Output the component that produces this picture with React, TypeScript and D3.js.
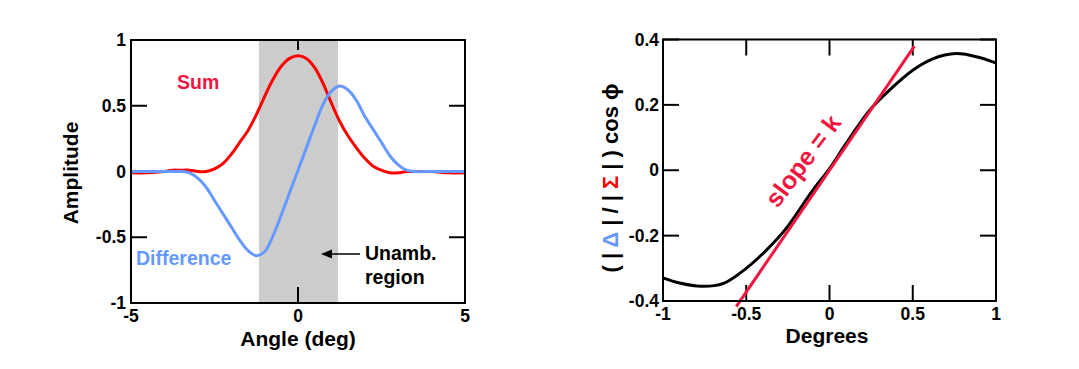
import * as d3 from "d3";

// left panel: sum / difference patterns
const angle = [-5, -4.5, -4, -3.75, -3.5, -3.25, -3, -2.75, -2.5, -2.25, -2, -1.75, -1.5, -1.25, -1, -0.75, -0.5, -0.25, 0, 0.25, 0.5, 0.75, 1, 1.25, 1.5, 1.75, 2, 2.25, 2.5, 2.75, 3, 3.25, 3.5, 4, 4.5, 5];
const sumVals = [-0.01, -0.01, 0, 0.01, 0.01, 0.01, 0, 0, 0.02, 0.06, 0.13, 0.22, 0.31, 0.43, 0.57, 0.7, 0.8, 0.86, 0.88, 0.86, 0.79, 0.67, 0.52, 0.38, 0.27, 0.18, 0.1, 0.04, 0.01, -0.01, -0.01, 0, 0, 0, -0.01, -0.01];
const diffVals = [0, 0, 0, 0, 0, -0.01, -0.05, -0.12, -0.22, -0.32, -0.42, -0.52, -0.6, -0.64, -0.61, -0.49, -0.33, -0.16, 0.01, 0.18, 0.35, 0.51, 0.61, 0.65, 0.62, 0.54, 0.42, 0.32, 0.22, 0.12, 0.05, 0.01, 0, 0, 0, 0];
const unambRegion = [-1.17, 1.2];
const leftXTicks = [-5, 0, 5];
const leftYTicks = [-1, -0.5, 0, 0.5, 1];

// right panel: normalized difference
const degrees = [-1, -0.9, -0.77, -0.64, -0.5, -0.38, -0.26, -0.1, 0, 0.1, 0.24, 0.36, 0.5, 0.62, 0.76, 0.9, 1];
const ratioVals = [-0.329, -0.345, -0.355, -0.347, -0.3, -0.245, -0.178, -0.061, 0.005, 0.082, 0.183, 0.245, 0.306, 0.341, 0.357, 0.345, 0.328];
const slopeX = [-0.56, 0.51];
const slopeY = [-0.417, 0.38];
const rightXTicks = [-1, -0.5, 0, 0.5, 1];
const rightYTicks = [-0.4, -0.2, 0, 0.2, 0.4];

const FONT = "'Liberation Sans', Arial, Helvetica, sans-serif";
const RED = "#ff0000";
const PINK = "#f0163f";
const BLUE = "#6699ff";

export default function App() {
  const xL = d3.scaleLinear().domain([-5, 5]).range([131, 465]);
  const yL = d3.scaleLinear().domain([-1, 1]).range([303, 40]);
  const xR = d3.scaleLinear().domain([-1, 1]).range([663, 996]);
  const yR = d3.scaleLinear().domain([-0.4, 0.4]).range([301, 39.5]);

  const lineL = d3.line<number>().x((_, i) => xL(angle[i])).curve(d3.curveCatmullRom);
  const sumPath = lineL.y((d) => yL(d))(sumVals) || "";
  const diffPath = lineL.y((d) => yL(d))(diffVals) || "";
  const ratioPath = d3.line<number>()
    .x((_, i) => xR(degrees[i]))
    .y((d) => yR(d))
    .curve(d3.curveCatmullRom)(ratioVals) || "";

  const fmt = (v: number) => String(v);
  const tickFont = { fontFamily: FONT, fontWeight: 700, fontSize: 17.5 };

  return (
    <svg width={1079} height={369} style={{ position: "absolute", left: 0, top: 0, background: "#fff" }}>
      {/* ---- left panel ---- */}
      <rect x={xL(unambRegion[0])} y={yL(1)} width={xL(unambRegion[1]) - xL(unambRegion[0])} height={yL(-1) - yL(1)} fill="#cccccc" />
      {leftXTicks.map((t) => (
        <g key={"lx" + t}>
          <line x1={xL(t)} x2={xL(t)} y1={yL(1)} y2={yL(1) + 10} stroke="#000" strokeWidth={2} />
          <line x1={xL(t)} x2={xL(t)} y1={yL(-1)} y2={yL(-1) - 16} stroke="#000" strokeWidth={2} />
          <text x={xL(t)} y={322} textAnchor="middle" {...tickFont}>{fmt(t)}</text>
        </g>
      ))}
      {leftYTicks.map((t) => (
        <g key={"ly" + t}>
          <line x1={xL(-5)} x2={xL(-5) + 16} y1={yL(t)} y2={yL(t)} stroke="#000" strokeWidth={2} />
          <line x1={xL(5)} x2={xL(5) - 16} y1={yL(t)} y2={yL(t)} stroke="#000" strokeWidth={2} />
          <text x={126} y={yL(t) + 6} textAnchor="end" {...tickFont}>{fmt(t)}</text>
        </g>
      ))}
      <path d={sumPath} fill="none" stroke={RED} strokeWidth={3} />
      <path d={diffPath} fill="none" stroke={BLUE} strokeWidth={3} />
      <rect x={xL(-5)} y={yL(1)} width={xL(5) - xL(-5)} height={yL(-1) - yL(1)} fill="none" stroke="#000" strokeWidth={2} />

      <text x={177} y={88.5} fill={PINK} fontFamily={FONT} fontWeight={700} fontSize={19.5}>Sum</text>
      <text x={136} y={264.5} fill={BLUE} fontFamily={FONT} fontWeight={700} fontSize={19.5}>Difference</text>
      <text x={365} y={260} fontFamily={FONT} fontWeight={700} fontSize={19.5}>Unamb.</text>
      <text x={365} y={283.5} fontFamily={FONT} fontWeight={700} fontSize={19.5}>region</text>
      <line x1={360} x2={330} y1={254} y2={254} stroke="#000" strokeWidth={1.5} />
      <path d="M321,254 L332,249.5 L332,258.5 Z" fill="#000" />

      <text x={298} y={346} textAnchor="middle" fontFamily={FONT} fontWeight={700} fontSize={21}>Angle (deg)</text>
      <text transform="translate(78,173) rotate(-90)" textAnchor="middle" fontFamily={FONT} fontWeight={700} fontSize={21}>Amplitude</text>

      {/* ---- right panel ---- */}
      {rightXTicks.map((t) => (
        <g key={"rx" + t}>
          <line x1={xR(t)} x2={xR(t)} y1={yR(0.4)} y2={yR(0.4) + 16} stroke="#000" strokeWidth={2} />
          <line x1={xR(t)} x2={xR(t)} y1={yR(-0.4)} y2={yR(-0.4) - 16} stroke="#000" strokeWidth={2} />
          <text x={xR(t)} y={320} textAnchor="middle" {...tickFont}>{fmt(t)}</text>
        </g>
      ))}
      {rightYTicks.map((t) => (
        <g key={"ry" + t}>
          <line x1={xR(-1)} x2={xR(-1) + 16} y1={yR(t)} y2={yR(t)} stroke="#000" strokeWidth={2} />
          <line x1={xR(1)} x2={xR(1) - 16} y1={yR(t)} y2={yR(t)} stroke="#000" strokeWidth={2} />
          <text x={659} y={yR(t) + 6} textAnchor="end" {...tickFont}>{fmt(t)}</text>
        </g>
      ))}
      <path d={ratioPath} fill="none" stroke="#000" strokeWidth={3} />
      <line x1={xR(slopeX[0])} y1={yR(slopeY[0])} x2={xR(slopeX[1])} y2={yR(slopeY[1])} stroke={PINK} strokeWidth={3} />
      <rect x={xR(-1)} y={yR(0.4)} width={xR(1) - xR(-1)} height={yR(-0.4) - yR(0.4)} fill="none" stroke="#000" strokeWidth={2} />

      <text transform="translate(810,166) rotate(-53)" textAnchor="middle" fill={PINK} fontFamily={FONT} fontWeight={700} fontSize={25}>slope = k</text>

      <text x={827} y={343} textAnchor="middle" fontFamily={FONT} fontWeight={700} fontSize={21}>Degrees</text>
      <text transform="translate(618,178) rotate(-90)" textAnchor="middle" fontFamily={FONT} fontWeight={700} fontSize={22}>
        <tspan>( | </tspan>
        <tspan fill={BLUE}>Δ</tspan>
        <tspan> | / | </tspan>
        <tspan fill={RED}>Σ</tspan>
        <tspan> | ) cos ϕ</tspan>
      </text>
    </svg>
  );
}
